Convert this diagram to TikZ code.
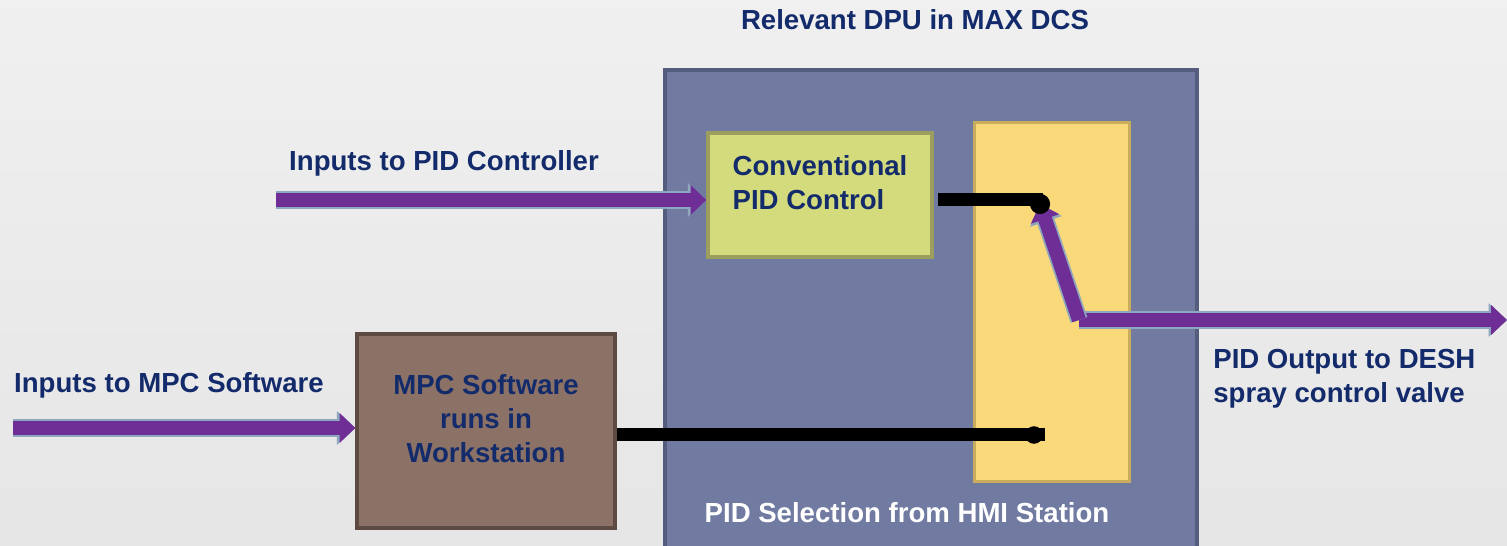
\documentclass[tikz,border=0pt]{standalone}
\usepackage{fontspec}
\setmainfont{Liberation Sans}
\usetikzlibrary{arrows.meta}

\definecolor{navy}{HTML}{132B6B}
\definecolor{dpufill}{HTML}{717BA1}
\definecolor{dpuline}{HTML}{555D7E}
\definecolor{pidfill}{HTML}{D4DB7C}
\definecolor{pidline}{HTML}{9C9E5E}
\definecolor{selfill}{HTML}{FAD97A}
\definecolor{selline}{HTML}{C9AC5C}
\definecolor{mpcfill}{HTML}{8C7266}
\definecolor{mpcline}{HTML}{5D4A42}
\definecolor{flowfill}{HTML}{6E2E96}
\definecolor{flowedge}{HTML}{8EA7BE}

\begin{document}
\begin{tikzpicture}[x=0.02cm, y=-0.02cm,
  font=\fontsize{15.7}{19.3}\selectfont\bfseries,
  box/.style={draw, line width=1.8pt, inner sep=0, text=navy, align=center},
  lbl/.style={text=navy, inner sep=0},
  flow/.style={draw=flowfill, line width=8pt, -{Triangle[length=9pt, width=16.5pt]},
    preaction={draw=flowedge, line width=10pt, -{Triangle[length=10.5pt, width=18.5pt]}}},
  wire/.style={draw=black, line width=7.4pt},
  dot/.style={circle, fill=black, inner sep=0, minimum size=11.5pt}]
\useasboundingbox (0,0) rectangle (1507,546);
\shade[top color=black!6, bottom color=black!10] (0,0) rectangle (1507,546);

% Boxes
\node[box, fill=dpufill, draw=dpuline, minimum width=532*0.02cm, minimum height=480*0.02cm] (dpu) at (931,310) {};
\node[box, fill=pidfill, draw=pidline, minimum width=224*0.02cm, minimum height=124*0.02cm, align=left, text depth=14pt] (pid) at (820,195) {Conventional\\PID Control};
\node[box, fill=selfill, draw=selline, minimum width=155*0.02cm, minimum height=359*0.02cm] (sel) at (1052,302) {};
\node[box, fill=mpcfill, draw=mpcline, minimum width=258*0.02cm, minimum height=194*0.02cm, text depth=14pt] (mpc) at (486,431) {MPC Software\\runs in\\Workstation};

% Labels
\node[lbl] (title) at (915,20) {Relevant DPU in MAX DCS};
\node[lbl] (inpid) at (444,163) {Inputs to PID Controller};
\node[lbl] (inmpc) at (169,385) {Inputs to MPC Software};
\node[lbl, anchor=west, align=left] (outlbl) at (1213,379) {PID Output to DESH\\spray control valve};
\node[lbl, text=white] (hmi) at (907,513) {PID Selection from HMI Station};

% Switch points
\coordinate (sw) at (1040,204);
\coordinate (sl) at (1034,435);
\coordinate (pv) at (1079,320);
\coordinate (src1) at (276,200);
\coordinate (src2) at (13,428);
\coordinate (valve) at (1507,320);

% Arrows
\draw[flow] (src1) -- (pid.west |- src1);
\draw[flow] (src2) -- (mpc.west |- src2);
\draw[flow] (pv) -- (valve);
\draw[flow] (pv) -- (sw);
\draw[wire] ([xshift=2.5pt]pid.east |- 0,200) -- (1043,200);
\draw[wire] (mpc.east |- sl) -- ([xshift=6pt]sl);
\node[dot] (d1) at (sw) {};
\node[dot, minimum size=10pt] (d2) at (sl) {};
\end{tikzpicture}
\end{document}
